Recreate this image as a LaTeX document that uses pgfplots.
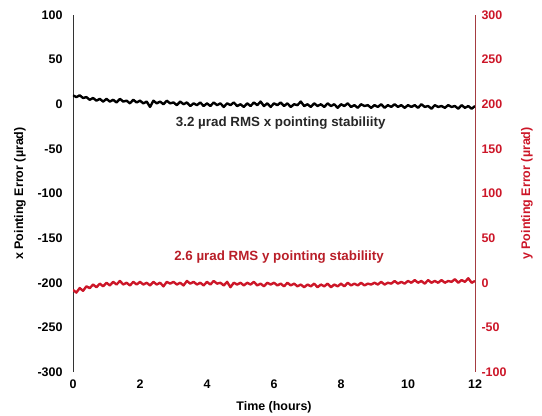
\documentclass[border=0pt]{standalone}
\usepackage{pgfplots}
\pgfplotsset{compat=1.18}
\usepackage{fontspec}
\setmainfont{Liberation Sans}
\definecolor{ptred}{RGB}{204, 22, 40}
\definecolor{txred}{RGB}{185, 30, 40}
\definecolor{axred}{RGB}{165, 60, 65}

\pgfplotstableread{
t x
0.0 10
0.1 8
0.2 10
0.3 7
0.4 8
0.5 5
0.6 7
0.7 4
0.8 6
0.9 3
1.0 6
1.1 3
1.2 5
1.3 2
1.4 6
1.5 3
1.6 4
1.7 1
1.8 5
1.9 2
2.0 4
2.1 1
2.2 3
2.3 -3
2.4 4
2.5 1
2.6 3
2.7 0
2.8 4
2.9 1
3.0 2
3.1 -1
3.2 3
3.3 0
3.4 2
3.5 -2
3.6 1
3.7 -1
3.8 2
3.9 -2
4.0 1
4.1 -2
4.2 2
4.3 -1
4.4 1
4.5 -3
4.6 1
4.7 -1
4.8 2
4.9 -2
5.0 0
5.1 -3
5.2 1
5.3 -2
5.4 2
5.5 -1
5.6 3
5.7 -2
5.8 1
5.9 -3
6.0 1
6.1 -1
6.2 2
6.3 -2
6.4 1
6.5 -3
6.6 0
6.7 -1
6.8 3
6.9 -2
7.0 0
7.1 -3
7.2 1
7.3 -2
7.4 0
7.5 -3
7.6 1
7.7 -2
7.8 0
7.9 -4
8.0 0
8.1 -2
8.2 1
8.3 -3
8.4 -1
8.5 -4
8.6 0
8.7 -2
8.8 -1
8.9 -4
9.0 -1
9.1 -3
9.2 0
9.3 -4
9.4 -1
9.5 -3
9.6 0
9.7 -3
9.8 -1
9.9 -4
10.0 -1
10.1 -3
10.2 -1
10.3 -4
10.4 0
10.5 -3
10.6 -2
10.7 -5
10.8 -1
10.9 -3
11.0 -2
11.1 -4
11.2 -1
11.3 -3
11.4 -2
11.5 -5
11.6 -1
11.7 -4
11.8 -2
11.9 -5
12.0 -2
}\xdata

\pgfplotstableread{
t y
0.0 -8
0.1 -11
0.2 -6
0.3 -9
0.4 -4
0.5 -6
0.6 -2
0.7 -5
0.8 -1
0.9 -4
1.0 0
1.1 -3
1.2 1
1.3 -2
1.4 2
1.5 -2
1.6 0
1.7 -3
1.8 1
1.9 -2
2.0 1
2.1 -2
2.2 0
2.3 -3
2.4 1
2.5 -2
2.6 0
2.7 -4
2.8 1
2.9 -1
3.0 1
3.1 -2
3.2 0
3.3 -3
3.4 2
3.5 -1
3.6 1
3.7 -2
3.8 0
3.9 -3
4.0 1
4.1 -2
4.2 2
4.3 -1
4.4 0
4.5 -3
4.6 1
4.7 -5
4.8 0
4.9 -2
5.0 0
5.1 -3
5.2 0
5.3 -2
5.4 1
5.5 -3
5.6 -1
5.7 -4
5.8 0
5.9 -2
6.0 0
6.1 -3
6.2 -1
6.3 -4
6.4 0
6.5 -3
6.6 -1
6.7 -4
6.8 -2
6.9 -5
7.0 -2
7.1 -4
7.2 -1
7.3 -5
7.4 -2
7.5 -4
7.6 -1
7.7 -5
7.8 -2
7.9 -4
8.0 -1
8.1 -4
8.2 0
8.3 -3
8.4 -1
8.5 -3
8.6 0
8.7 -3
8.8 -1
8.9 -2
9.0 0
9.1 -2
9.2 1
9.3 -2
9.4 0
9.5 -1
9.6 2
9.7 -1
9.8 1
9.9 -1
10.0 2
10.1 0
10.2 3
10.3 0
10.4 2
10.5 -1
10.6 3
10.7 0
10.8 2
10.9 0
11.0 3
11.1 0
11.2 2
11.3 1
11.4 4
11.5 0
11.6 3
11.7 1
11.8 5
11.9 0
12.0 2
}\ydata

\begin{document}
\begin{tikzpicture}
  % fixed page: 542 x 416 bp, axis box 402 x 357 bp
  \path[use as bounding box] (-73bp,-44bp) rectangle (469bp,372bp);
  \pgfplotsset{
    every axis/.append style={
      anchor=south west, at={(0,0)},
      scale only axis, width=402bp, height=357bp,
      xmin=0, xmax=12, xtick={0,2,...,12},
      tick style={draw=none},
      tick label style={font=\fontsize{12.5}{14}\selectfont\bfseries},
      label style={font=\fontsize{12.5}{14}\selectfont\bfseries},
      /pgf/number format/assume math mode=true,
    },
  }
  \begin{axis}[
    axis y line*=left, axis x line*=bottom,
    x axis line style={draw=none},
    y axis line style={draw=black!80, line width=0.8pt},
    ymin=-300, ymax=100, ytick={-300,-250,...,100},
    yticklabel style={xshift=-7bp},
    xticklabel style={yshift=-4bp},
    xlabel={Time (hours)},
    ylabel={x Pointing Error (\textmu rad)},
    xlabel style={at={(axis description cs:0.5,-0.098)}, anchor=center},
    ylabel style={at={(axis description cs:-0.132,0.5)}, anchor=center},
  ]
    \addplot[black, line width=2.4pt, line join=round] table[x=t, y=x] {\xdata};
    \node[font=\fontsize{13.4}{15}\selectfont\bfseries, text=black!85]
      at (axis cs:6.2,-21) {3.2 \textmu rad RMS x pointing stabiliity};
    \node[font=\fontsize{13.4}{15}\selectfont\bfseries, text=txred]
      at (axis cs:6.15,-171) {2.6 \textmu rad RMS y pointing stabiliity};
  \end{axis}
  \begin{axis}[
    axis y line*=right,
    axis x line=none,
    y axis line style={draw=axred, line width=0.8pt},
    ymin=-100, ymax=300, ytick={-100,-50,...,300},
    yticklabel style={text=ptred, xshift=3bp},
    ylabel={y Pointing Error (\textmu rad)},
    ylabel style={text=ptred, at={(axis description cs:1.129,0.5)}, anchor=center},
  ]
    \addplot[ptred, line width=2.4pt, line join=round] table[x=t, y=y] {\ydata};
  \end{axis}
\end{tikzpicture}
\end{document}
